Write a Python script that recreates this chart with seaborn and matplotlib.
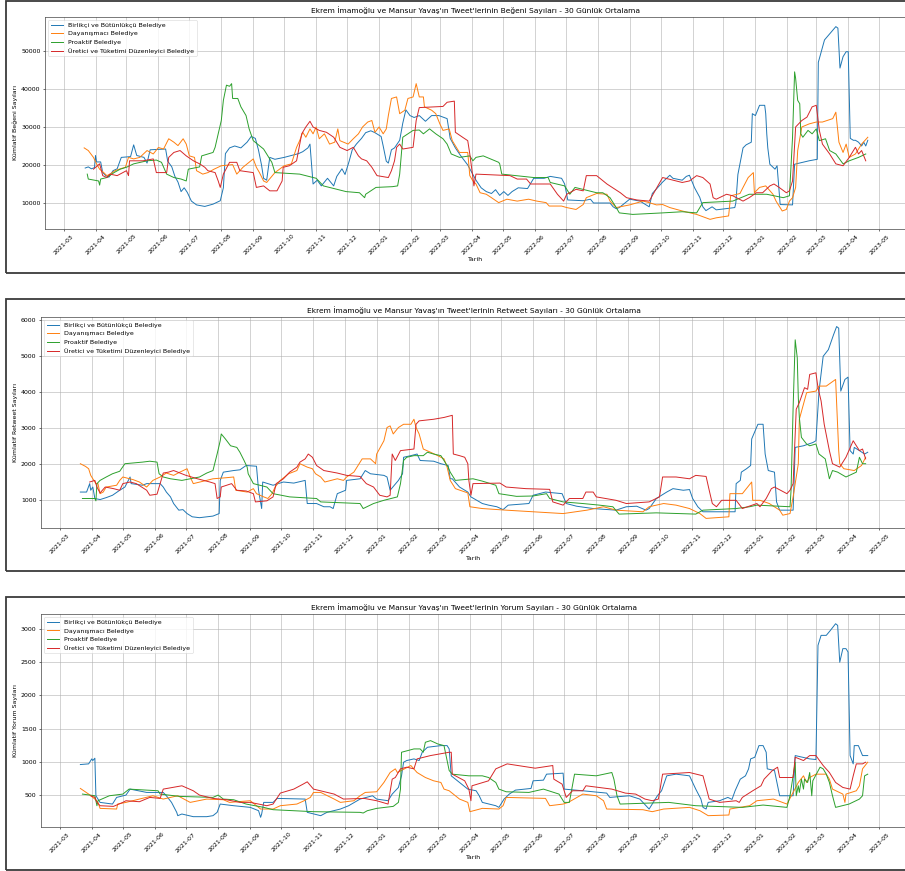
import pandas as pd
import seaborn as sns
import matplotlib
matplotlib.use("Agg")
from matplotlib import pyplot as plt
import matplotlib.dates as mdates
import matplotlib.patches as patches

GROUPS = ["Birlikçi ve Bütünlükçü Belediye", "Dayanışmacı Belediye",
          "Proaktif Belediye", "Üretici ve Tüketimi Düzenleyici Belediye"]
COLORS = ["#1f77b4", "#ff7f0e", "#2ca02c", "#d62728"]

TITLES = ["Ekrem İmamoğlu ve Mansur Yavaş'ın Tweet'lerinin Beğeni Sayıları - 30 Günlük Ortalama",
          "Ekrem İmamoğlu ve Mansur Yavaş'ın Tweet'lerinin Retweet Sayıları - 30 Günlük Ortalama",
          "Ekrem İmamoğlu ve Mansur Yavaş'ın Tweet'lerinin Yorum Sayıları - 30 Günlük Ortalama"]
YLABELS = ["Kümlatif Beğeni Sayıları", "Kümlatif Retweet Sayıları", "Kümlatif Yorum Sayıları"]
XLABEL = "Tarih"

# ---- Beğeni (likes), 30 day average ----
LIKES_BIRLIKCI = [
    ("2021-03-22", 19200), ("2021-03-25", 19500), ("2021-03-28", 19000), ("2021-03-31", 19300), ("2021-04-01", 22500),
    ("2021-04-02", 20800), ("2021-04-06", 20800), ("2021-04-08", 18000), ("2021-04-11", 17200), ("2021-04-14", 16800),
    ("2021-04-18", 18500), ("2021-04-22", 19000), ("2021-04-26", 22000), ("2021-05-05", 22200), ("2021-05-08", 25300),
    ("2021-05-11", 22500), ("2021-05-18", 22000), ("2021-05-21", 20500), ("2021-05-24", 24000), ("2021-06-08", 24200),
    ("2021-06-10", 21000), ("2021-06-14", 19500), ("2021-06-17", 17000), ("2021-06-20", 15500), ("2021-06-23", 13000),
    ("2021-06-26", 14000), ("2021-06-29", 12800), ("2021-07-03", 10500), ("2021-07-08", 9500), ("2021-07-16", 9100),
    ("2021-07-24", 9700), ("2021-07-31", 10600), ("2021-08-03", 14000), ("2021-08-05", 23000), ("2021-08-09", 24500),
    ("2021-08-14", 25000), ("2021-08-20", 24500), ("2021-08-26", 26000), ("2021-08-30", 27500), ("2021-09-03", 27000),
    ("2021-09-06", 24000), ("2021-09-09", 20000), ("2021-09-11", 16500), ("2021-09-14", 16000), ("2021-09-17", 22000),
    ("2021-09-22", 21500), ("2021-10-01", 22000), ("2021-10-08", 22500), ("2021-10-15", 23000), ("2021-10-19", 23500),
    ("2021-10-24", 24500), ("2021-10-26", 25500), ("2021-10-29", 15000), ("2021-11-02", 16000), ("2021-11-06", 14500),
    ("2021-11-12", 16500), ("2021-11-18", 14500), ("2021-11-21", 17000), ("2021-11-26", 19000), ("2021-11-29", 17500),
    ("2021-12-03", 21000), ("2021-12-06", 24000), ("2021-12-10", 25500), ("2021-12-15", 27000), ("2021-12-19", 28500),
    ("2021-12-24", 29000), ("2021-12-28", 28500), ("2021-12-31", 28000), ("2022-01-03", 27500), ("2022-01-05", 25000),
    ("2022-01-08", 21000), ("2022-01-10", 20500), ("2022-01-13", 24000), ("2022-01-16", 24500), ("2022-01-21", 26500),
    ("2022-01-24", 31000), ("2022-01-27", 34500), ("2022-01-31", 33000), ("2022-02-04", 32500), ("2022-02-09", 33000),
    ("2022-02-15", 31500), ("2022-02-21", 33000), ("2022-02-28", 33000), ("2022-03-08", 32200), ("2022-03-11", 27000),
    ("2022-03-16", 24500), ("2022-03-21", 22500), ("2022-03-28", 20000), ("2022-04-02", 17500), ("2022-04-05", 16000),
    ("2022-04-10", 14000), ("2022-04-15", 13000), ("2022-04-20", 12500), ("2022-04-24", 13500), ("2022-04-28", 12000),
    ("2022-05-02", 13000), ("2022-05-06", 12000), ("2022-05-10", 13000), ("2022-05-16", 14000), ("2022-05-25", 13800),
    ("2022-05-31", 16500), ("2022-06-10", 16500), ("2022-06-16", 17000), ("2022-06-27", 16500), ("2022-06-30", 15000),
    ("2022-07-03", 10800), ("2022-07-18", 10600), ("2022-07-25", 11000), ("2022-07-28", 10000), ("2022-08-13", 10000),
    ("2022-08-16", 9000), ("2022-08-19", 8500), ("2022-08-22", 8800), ("2022-09-01", 11000), ("2022-09-11", 10500),
    ("2022-09-17", 9500), ("2022-09-20", 9000), ("2022-09-23", 12500), ("2022-09-28", 14000), ("2022-10-03", 15500),
    ("2022-10-10", 17300), ("2022-10-13", 16500), ("2022-10-22", 16000), ("2022-10-26", 17000), ("2022-10-29", 17300),
    ("2022-11-03", 14000), ("2022-11-08", 11500), ("2022-11-11", 9000), ("2022-11-14", 8000), ("2022-11-20", 9000),
    ("2022-11-24", 8200), ("2022-12-03", 8500), ("2022-12-12", 8800), ("2022-12-13", 10000), ("2022-12-15", 17500),
    ("2022-12-20", 24500), ("2022-12-23", 25300), ("2022-12-28", 26000), ("2022-12-29", 33500), ("2023-01-01", 33000),
    ("2023-01-05", 35700), ("2023-01-10", 35700), ("2023-01-11", 33500), ("2023-01-12", 28200), ("2023-01-13", 24500),
    ("2023-01-15", 20200), ("2023-01-20", 18900), ("2023-01-22", 19800), ("2023-01-25", 9600), ("2023-02-06", 9500),
    ("2023-02-08", 20200), ("2023-02-22", 21100), ("2023-03-02", 21500), ("2023-03-03", 47000), ("2023-03-09", 52900),
    ("2023-03-14", 54500), ("2023-03-20", 56400), ("2023-03-22", 56000), ("2023-03-24", 45500), ("2023-03-27", 48500),
    ("2023-03-30", 49800), ("2023-04-01", 49800), ("2023-04-03", 27000), ("2023-04-06", 26500), ("2023-04-08", 26500),
    ("2023-04-11", 26000), ("2023-04-14", 25000), ("2023-04-16", 26000), ("2023-04-18", 25000), ("2023-04-20", 26500)]

LIKES_DAYANISMACI = [
    ("2021-03-21", 24500), ("2021-03-25", 23800), ("2021-03-30", 22000), ("2021-04-02", 20300), ("2021-04-05", 18900),
    ("2021-04-09", 18000), ("2021-04-12", 17200), ("2021-04-15", 17600), ("2021-04-20", 18500), ("2021-04-25", 19000),
    ("2021-04-30", 19400), ("2021-05-03", 22000), ("2021-05-08", 21600), ("2021-05-14", 22000), ("2021-05-21", 23800),
    ("2021-05-27", 22900), ("2021-06-01", 24600), ("2021-06-06", 24200), ("2021-06-11", 26900), ("2021-06-16", 26000),
    ("2021-06-20", 25100), ("2021-06-25", 26900), ("2021-06-28", 25500), ("2021-07-01", 22400), ("2021-07-06", 22000),
    ("2021-07-08", 18500), ("2021-07-14", 17600), ("2021-07-19", 18000), ("2021-07-25", 18900), ("2021-08-01", 19800),
    ("2021-08-12", 20100), ("2021-08-16", 17600), ("2021-08-22", 19400), ("2021-08-28", 20700), ("2021-09-01", 21600),
    ("2021-09-04", 19400), ("2021-09-07", 18000), ("2021-09-11", 15800), ("2021-09-14", 15400), ("2021-09-22", 18000),
    ("2021-10-01", 19800), ("2021-10-08", 20300), ("2021-10-13", 24650), ("2021-10-16", 26400), ("2021-10-19", 28600),
    ("2021-10-22", 27300), ("2021-10-26", 29500), ("2021-10-29", 28200), ("2021-11-01", 30000), ("2021-11-04", 26900),
    ("2021-11-09", 28200), ("2021-11-14", 25500), ("2021-11-19", 26000), ("2021-11-22", 29500), ("2021-11-24", 26400),
    ("2021-12-02", 25500), ("2021-12-07", 26900), ("2021-12-12", 28200), ("2021-12-16", 30000), ("2021-12-21", 31300),
    ("2021-12-25", 31700), ("2021-12-28", 28600), ("2022-01-01", 30000), ("2022-01-05", 28200), ("2022-01-08", 29500),
    ("2022-01-10", 33000), ("2022-01-13", 37500), ("2022-01-18", 37900), ("2022-01-21", 33500), ("2022-01-26", 34400),
    ("2022-01-29", 37500), ("2022-02-03", 37900), ("2022-02-06", 41400), ("2022-02-09", 37900), ("2022-02-13", 37900),
    ("2022-02-14", 35300), ("2022-02-21", 34400), ("2022-02-25", 33500), ("2022-03-01", 30800), ("2022-03-04", 29100),
    ("2022-03-10", 29500), ("2022-03-13", 26400), ("2022-03-17", 24650), ("2022-03-20", 23300), ("2022-03-28", 23300),
    ("2022-03-30", 17200), ("2022-04-02", 15800), ("2022-04-05", 15000), ("2022-04-09", 12700), ("2022-04-15", 12300),
    ("2022-04-20", 11400), ("2022-04-27", 10100), ("2022-05-05", 11000), ("2022-05-15", 10500), ("2022-05-26", 11000),
    ("2022-06-03", 10500), ("2022-06-12", 10100), ("2022-06-15", 9200), ("2022-06-27", 9200), ("2022-07-02", 8800),
    ("2022-07-11", 8300), ("2022-07-18", 9600), ("2022-07-21", 11400), ("2022-07-31", 12500), ("2022-08-10", 12300),
    ("2022-08-13", 10500), ("2022-08-19", 8800), ("2022-09-01", 9500), ("2022-09-14", 10500), ("2022-09-20", 10100),
    ("2022-09-27", 9500), ("2022-10-03", 9600), ("2022-10-10", 8800), ("2022-10-22", 7900), ("2022-11-05", 7000),
    ("2022-11-18", 5700), ("2022-11-24", 6100), ("2022-12-06", 6600), ("2022-12-08", 11900), ("2022-12-17", 12500),
    ("2022-12-20", 14100), ("2022-12-25", 16700), ("2022-12-30", 18000), ("2022-12-31", 12700), ("2023-01-05", 14100),
    ("2023-01-11", 14500), ("2023-01-18", 12300), ("2023-01-21", 10500), ("2023-01-27", 7900), ("2023-01-31", 8300),
    ("2023-02-03", 10500), ("2023-02-06", 11400), ("2023-02-09", 14100), ("2023-02-11", 23800), ("2023-02-15", 30000),
    ("2023-02-22", 30800), ("2023-03-01", 31300), ("2023-03-07", 31300), ("2023-03-17", 32200), ("2023-03-20", 33900),
    ("2023-03-23", 26000), ("2023-03-27", 23300), ("2023-03-30", 25500), ("2023-04-02", 22000), ("2023-04-08", 22900),
    ("2023-04-14", 25500), ("2023-04-20", 27300)]

LIKES_PROAKTIF = [
    ("2021-03-24", 17600), ("2021-03-25", 16300), ("2021-04-04", 15800), ("2021-04-05", 14700), ("2021-04-06", 16300),
    ("2021-04-12", 16700), ("2021-04-19", 18000), ("2021-04-25", 18900), ("2021-05-01", 19400), ("2021-05-08", 20300),
    ("2021-05-21", 21100), ("2021-05-30", 21300), ("2021-06-04", 20700), ("2021-06-09", 17600), ("2021-06-16", 16700),
    ("2021-06-23", 16300), ("2021-06-28", 15800), ("2021-06-30", 18900), ("2021-07-11", 19500), ("2021-07-13", 22400),
    ("2021-07-24", 23300), ("2021-07-26", 24650), ("2021-07-29", 28200), ("2021-08-01", 31700), ("2021-08-03", 37000),
    ("2021-08-06", 41000), ("2021-08-09", 40700), ("2021-08-11", 41400), ("2021-08-12", 37500), ("2021-08-17", 37500),
    ("2021-08-20", 35300), ("2021-08-25", 33000), ("2021-08-28", 29500), ("2021-09-01", 26400), ("2021-09-11", 24200),
    ("2021-09-14", 22900), ("2021-09-19", 20700), ("2021-09-22", 18000), ("2021-10-16", 17600), ("2021-11-01", 16500),
    ("2021-11-08", 14500), ("2021-11-30", 13000), ("2021-12-13", 12700), ("2021-12-18", 11400), ("2021-12-19", 12300),
    ("2021-12-29", 14100), ("2022-01-14", 14300), ("2022-01-19", 14500), ("2022-01-21", 17600), ("2022-01-24", 27300),
    ("2022-02-03", 29100), ("2022-02-09", 29200), ("2022-02-13", 28200), ("2022-02-19", 29500), ("2022-02-25", 28200),
    ("2022-03-04", 26900), ("2022-03-08", 25500), ("2022-03-12", 22900), ("2022-03-20", 22000), ("2022-03-30", 22400),
    ("2022-04-02", 21100), ("2022-04-05", 22000), ("2022-04-12", 22400), ("2022-04-27", 20700), ("2022-04-28", 20300),
    ("2022-04-30", 17600), ("2022-05-31", 16700), ("2022-06-14", 16700), ("2022-06-16", 15400), ("2022-06-30", 14500),
    ("2022-07-05", 12300), ("2022-07-10", 14100), ("2022-07-31", 12700), ("2022-08-06", 12700), ("2022-08-13", 11400),
    ("2022-08-19", 8800), ("2022-08-22", 7400), ("2022-09-04", 7000), ("2022-10-03", 7400), ("2022-10-22", 7700),
    ("2022-11-05", 7400), ("2022-11-11", 10100), ("2022-12-10", 10500), ("2022-12-26", 12300), ("2023-01-12", 12300),
    ("2023-01-28", 11400), ("2023-02-03", 11900), ("2023-02-06", 27300), ("2023-02-08", 44500), ("2023-02-09", 42800),
    ("2023-02-11", 37000), ("2023-02-13", 36100), ("2023-02-14", 28200), ("2023-02-16", 27300), ("2023-02-21", 29100),
    ("2023-02-25", 28200), ("2023-03-01", 29500), ("2023-03-04", 26400), ("2023-03-10", 26900), ("2023-03-14", 23800),
    ("2023-03-20", 22900), ("2023-03-27", 20300), ("2023-04-02", 21100), ("2023-04-11", 22000), ("2023-04-18", 22900)]

LIKES_URETICI = [
    ("2021-03-30", 18900), ("2021-04-05", 20300), ("2021-04-08", 17200), ("2021-04-12", 16700), ("2021-04-15", 17600),
    ("2021-04-22", 17200), ("2021-05-01", 18500), ("2021-05-03", 17200), ("2021-05-04", 21100), ("2021-05-17", 21100),
    ("2021-05-27", 21600), ("2021-05-30", 18000), ("2021-06-09", 18000), ("2021-06-11", 22000), ("2021-06-16", 23300),
    ("2021-06-22", 23800), ("2021-06-28", 22400), ("2021-07-05", 21100), ("2021-07-11", 20300), ("2021-07-16", 19400),
    ("2021-07-19", 18500), ("2021-07-26", 18000), ("2021-07-29", 15800), ("2021-07-31", 14100), ("2021-08-03", 17600),
    ("2021-08-09", 20700), ("2021-08-16", 20700), ("2021-08-19", 18500), ("2021-09-01", 18000), ("2021-09-04", 14100),
    ("2021-09-11", 14500), ("2021-09-17", 13200), ("2021-09-24", 13200), ("2021-09-29", 15800), ("2021-09-30", 19400),
    ("2021-10-06", 19800), ("2021-10-13", 21100), ("2021-10-18", 28200), ("2021-10-22", 30000), ("2021-10-26", 31500),
    ("2021-10-29", 30000), ("2021-11-04", 29100), ("2021-11-11", 28600), ("2021-11-18", 27300), ("2021-11-24", 24650),
    ("2021-12-01", 23800), ("2021-12-07", 24650), ("2021-12-12", 22400), ("2021-12-15", 21600), ("2021-12-20", 21100),
    ("2021-12-25", 19400), ("2021-12-30", 17200), ("2022-01-10", 16700), ("2022-01-13", 18500), ("2022-01-16", 21100),
    ("2022-01-18", 24650), ("2022-01-21", 25500), ("2022-01-24", 24200), ("2022-02-03", 24650), ("2022-02-06", 31700),
    ("2022-02-09", 35100), ("2022-03-04", 35400), ("2022-03-08", 36500), ("2022-03-15", 36800), ("2022-03-16", 28600),
    ("2022-03-23", 27300), ("2022-03-28", 26400), ("2022-03-30", 22900), ("2022-04-02", 16700), ("2022-04-03", 14500),
    ("2022-04-05", 17600), ("2022-05-08", 17200), ("2022-05-15", 16300), ("2022-05-24", 16300), ("2022-05-28", 15000),
    ("2022-06-16", 15000), ("2022-06-23", 12300), ("2022-06-29", 10500), ("2022-07-02", 12300), ("2022-07-11", 13600),
    ("2022-07-18", 13200), ("2022-07-21", 17200), ("2022-07-31", 17200), ("2022-08-10", 15000), ("2022-08-23", 12700),
    ("2022-08-29", 11400), ("2022-09-08", 10800), ("2022-09-20", 10500), ("2022-10-03", 16700), ("2022-10-22", 15400),
    ("2022-10-29", 15800), ("2022-11-05", 17200), ("2022-11-11", 16700), ("2022-11-18", 15000), ("2022-11-21", 11400),
    ("2022-11-24", 11000), ("2022-12-04", 12300), ("2022-12-10", 11900), ("2022-12-20", 10500), ("2022-12-26", 11400),
    ("2023-01-02", 12700), ("2023-01-08", 12700), ("2023-01-15", 14500), ("2023-01-19", 15000), ("2023-01-24", 14100),
    ("2023-01-31", 12700), ("2023-02-03", 13200), ("2023-02-06", 15800), ("2023-02-09", 30000), ("2023-02-15", 31700),
    ("2023-02-20", 32600), ("2023-02-25", 35300), ("2023-03-01", 35700), ("2023-03-04", 29100), ("2023-03-07", 25500),
    ("2023-03-14", 22900), ("2023-03-20", 20300), ("2023-03-27", 19800), ("2023-04-02", 22000), ("2023-04-08", 24650),
    ("2023-04-11", 22900), ("2023-04-14", 23800), ("2023-04-18", 21100)]

# ---- Retweet ----
RT_BIRLIKCI = [
    ("2021-03-21", 1210), ("2021-03-27", 1210), ("2021-03-30", 1445), ("2021-03-31", 1260), ("2021-04-02", 1350),
    ("2021-04-04", 1030), ("2021-04-09", 1000), ("2021-04-15", 1055), ("2021-04-21", 1120), ("2021-04-28", 1260),
    ("2021-05-03", 1350), ("2021-05-08", 1630), ("2021-05-09", 1445), ("2021-05-20", 1400), ("2021-05-24", 1445),
    ("2021-06-06", 1445), ("2021-06-09", 1350), ("2021-06-12", 1210), ("2021-06-16", 1075), ("2021-06-19", 890),
    ("2021-06-24", 705), ("2021-06-28", 720), ("2021-07-02", 610), ("2021-07-07", 520), ("2021-07-14", 495),
    ("2021-07-27", 540), ("2021-08-02", 610), ("2021-08-03", 1535), ("2021-08-06", 1765), ("2021-08-16", 1810),
    ("2021-08-22", 1830), ("2021-08-28", 1950), ("2021-09-07", 1930), ("2021-09-09", 1260), ("2021-09-12", 750),
    ("2021-09-13", 1490), ("2021-09-23", 1400), ("2021-10-03", 1490), ("2021-10-13", 1460), ("2021-10-24", 1535),
    ("2021-10-26", 890), ("2021-11-04", 890), ("2021-11-11", 800), ("2021-11-17", 800), ("2021-11-20", 750),
    ("2021-11-24", 1165), ("2021-12-02", 1260), ("2021-12-03", 1535), ("2021-12-16", 1580), ("2021-12-21", 1810),
    ("2021-12-26", 1720), ("2022-01-08", 1675), ("2022-01-11", 1630), ("2022-01-14", 1260), ("2022-01-22", 1535),
    ("2022-01-26", 1720), ("2022-01-27", 2180), ("2022-02-03", 2225), ("2022-02-09", 2270), ("2022-02-12", 2090),
    ("2022-02-25", 2070), ("2022-03-04", 2000), ("2022-03-11", 1950), ("2022-03-13", 1580), ("2022-03-15", 1580),
    ("2022-03-22", 1350), ("2022-03-30", 1210), ("2022-04-02", 1075), ("2022-04-13", 890), ("2022-04-19", 845),
    ("2022-04-27", 800), ("2022-05-03", 720), ("2022-05-08", 845), ("2022-05-28", 890), ("2022-06-01", 1120),
    ("2022-06-13", 1210), ("2022-06-29", 1165), ("2022-07-03", 890), ("2022-07-13", 815), ("2022-07-29", 750),
    ("2022-08-20", 705), ("2022-08-30", 800), ("2022-09-09", 815), ("2022-09-18", 705), ("2022-09-21", 750),
    ("2022-09-28", 1030), ("2022-10-08", 1210), ("2022-10-14", 1305), ("2022-10-24", 1260), ("2022-10-30", 1280),
    ("2022-11-02", 1030), ("2022-11-07", 800), ("2022-11-12", 660), ("2022-12-13", 660), ("2022-12-14", 1445),
    ("2022-12-18", 1535), ("2022-12-19", 1765), ("2022-12-24", 1860), ("2022-12-28", 1950), ("2022-12-29", 2690),
    ("2023-01-04", 3100), ("2023-01-09", 3100), ("2023-01-11", 2270), ("2023-01-14", 1810), ("2023-01-20", 1765),
    ("2023-01-22", 935), ("2023-01-25", 705), ("2023-02-07", 705), ("2023-02-09", 2455), ("2023-02-17", 2500),
    ("2023-02-26", 2590), ("2023-03-01", 2640), ("2023-03-04", 4025), ("2023-03-08", 4995), ("2023-03-13", 5180),
    ("2023-03-18", 5595), ("2023-03-21", 5825), ("2023-03-23", 5780), ("2023-03-25", 4025), ("2023-03-29", 4350),
    ("2023-04-01", 4415), ("2023-04-03", 2365), ("2023-04-06", 2270), ("2023-04-07", 2455), ("2023-04-12", 2365),
    ("2023-04-17", 2270), ("2023-04-20", 2320)]

RT_DAYANISMACI = [
    ("2021-03-21", 2000), ("2021-03-26", 1925), ("2021-03-29", 1860), ("2021-03-31", 1675), ("2021-04-03", 1535),
    ("2021-04-05", 1445), ("2021-04-07", 1445), ("2021-04-09", 1165), ("2021-04-12", 1210), ("2021-04-15", 1350),
    ("2021-04-25", 1400), ("2021-04-28", 1535), ("2021-05-01", 1630), ("2021-05-11", 1555), ("2021-05-17", 1490),
    ("2021-05-24", 1350), ("2021-05-30", 1535), ("2021-06-06", 1630), ("2021-06-12", 1740), ("2021-06-19", 1675),
    ("2021-06-25", 1765), ("2021-07-02", 1860), ("2021-07-05", 1630), ("2021-07-08", 1445), ("2021-07-18", 1515),
    ("2021-07-27", 1580), ("2021-08-09", 1610), ("2021-08-16", 1630), ("2021-08-18", 1260), ("2021-08-29", 1210),
    ("2021-09-04", 1305), ("2021-09-07", 1165), ("2021-09-14", 1075), ("2021-09-18", 1030), ("2021-09-22", 1165),
    ("2021-09-25", 1350), ("2021-09-30", 1535), ("2021-10-08", 1720), ("2021-10-16", 1810), ("2021-10-19", 2000),
    ("2021-10-26", 1905), ("2021-10-31", 1860), ("2021-11-03", 1720), ("2021-11-08", 1630), ("2021-11-12", 1490),
    ("2021-11-24", 1580), ("2021-11-30", 1535), ("2021-12-03", 1630), ("2021-12-10", 1765), ("2021-12-18", 2135),
    ("2021-12-26", 2135), ("2021-12-31", 2000), ("2022-01-01", 2270), ("2022-01-08", 2640), ("2022-01-11", 3010),
    ("2022-01-14", 3055), ("2022-01-17", 2830), ("2022-01-22", 3010), ("2022-01-27", 3100), ("2022-02-03", 3100),
    ("2022-02-06", 3240), ("2022-02-08", 3010), ("2022-02-11", 2830), ("2022-02-15", 2410), ("2022-02-22", 2320),
    ("2022-03-01", 2225), ("2022-03-07", 2135), ("2022-03-10", 1905), ("2022-03-13", 1535), ("2022-03-18", 1305),
    ("2022-03-30", 1185), ("2022-04-01", 800), ("2022-04-13", 750), ("2022-05-06", 705), ("2022-06-01", 660),
    ("2022-06-30", 610), ("2022-07-23", 705), ("2022-08-08", 800), ("2022-08-20", 705), ("2022-09-15", 660),
    ("2022-09-21", 800), ("2022-10-05", 890), ("2022-10-17", 845), ("2022-10-30", 750), ("2022-11-09", 610),
    ("2022-11-15", 475), ("2022-12-07", 520), ("2022-12-08", 1165), ("2022-12-20", 1165), ("2022-12-29", 1490),
    ("2022-12-30", 980), ("2023-01-06", 980), ("2023-01-15", 890), ("2023-01-25", 705), ("2023-01-28", 565),
    ("2023-02-04", 610), ("2023-02-07", 1075), ("2023-02-12", 2000), ("2023-02-13", 3240), ("2023-02-20", 3980),
    ("2023-03-01", 4025), ("2023-03-04", 4165), ("2023-03-11", 4165), ("2023-03-20", 4350), ("2023-03-23", 2365),
    ("2023-03-24", 2000), ("2023-03-28", 1860), ("2023-04-07", 1810), ("2023-04-14", 1950), ("2023-04-18", 2180)]

RT_PROAKTIF = [
    ("2021-03-23", 1030), ("2021-04-04", 1030), ("2021-04-05", 965), ("2021-04-06", 1445), ("2021-04-09", 1535),
    ("2021-04-15", 1630), ("2021-04-21", 1720), ("2021-04-28", 1790), ("2021-05-03", 2000), ("2021-05-20", 2045),
    ("2021-05-27", 2070), ("2021-06-03", 2045), ("2021-06-05", 1720), ("2021-06-09", 1630), ("2021-06-16", 1580),
    ("2021-06-27", 1535), ("2021-07-14", 1630), ("2021-07-21", 1740), ("2021-07-27", 1810), ("2021-07-31", 2270),
    ("2021-08-03", 2640), ("2021-08-04", 2830), ("2021-08-08", 2690), ("2021-08-13", 2500), ("2021-08-19", 2455),
    ("2021-08-22", 2320), ("2021-08-26", 2090), ("2021-08-29", 1905), ("2021-08-30", 1720), ("2021-09-04", 1445),
    ("2021-09-17", 1350), ("2021-09-23", 1165), ("2021-10-09", 1075), ("2021-11-04", 1030), ("2021-11-08", 935),
    ("2021-12-16", 890), ("2021-12-19", 750), ("2021-12-29", 890), ("2022-01-08", 980), ("2022-01-21", 1075),
    ("2022-01-24", 1445), ("2022-01-27", 2090), ("2022-01-30", 2180), ("2022-02-06", 2225), ("2022-02-15", 2225),
    ("2022-02-19", 2320), ("2022-02-25", 2270), ("2022-03-04", 2225), ("2022-03-11", 1905), ("2022-03-13", 1765),
    ("2022-03-18", 1535), ("2022-04-04", 1580), ("2022-04-13", 1515), ("2022-04-26", 1400), ("2022-04-29", 1165),
    ("2022-05-16", 1090), ("2022-06-01", 1100), ("2022-06-14", 1165), ("2022-06-17", 1030), ("2022-06-30", 935),
    ("2022-07-19", 890), ("2022-08-04", 845), ("2022-08-17", 800), ("2022-08-23", 595), ("2022-09-28", 630),
    ("2022-11-05", 595), ("2022-11-12", 705), ("2022-12-14", 750), ("2022-12-27", 800), ("2023-01-03", 845),
    ("2023-02-04", 800), ("2023-02-05", 1260), ("2023-02-07", 3565), ("2023-02-09", 5455), ("2023-02-11", 4950),
    ("2023-02-12", 3840), ("2023-02-13", 3290), ("2023-02-15", 2735), ("2023-02-20", 2550), ("2023-02-23", 2500),
    ("2023-03-01", 2550), ("2023-03-04", 2270), ("2023-03-10", 2135), ("2023-03-14", 1580), ("2023-03-17", 1810),
    ("2023-03-22", 1765), ("2023-03-30", 1630), ("2023-04-09", 1765), ("2023-04-12", 2180), ("2023-04-15", 2000),
    ("2023-04-18", 2000)]

RT_URETICI = [
    ("2021-03-30", 1490), ("2021-04-04", 1535), ("2021-04-06", 1350), ("2021-04-09", 1185), ("2021-04-14", 1350),
    ("2021-04-22", 1305), ("2021-04-28", 1260), ("2021-05-01", 1445), ("2021-05-08", 1490), ("2021-05-14", 1445),
    ("2021-05-24", 1260), ("2021-05-27", 1120), ("2021-06-03", 1150), ("2021-06-06", 1445), ("2021-06-09", 1740),
    ("2021-06-14", 1765), ("2021-06-19", 1810), ("2021-07-01", 1675), ("2021-07-12", 1580), ("2021-07-24", 1490),
    ("2021-07-29", 1445), ("2021-07-31", 1030), ("2021-08-03", 1075), ("2021-08-04", 1350), ("2021-08-14", 1445),
    ("2021-08-19", 1260), ("2021-08-28", 1240), ("2021-09-04", 1165), ("2021-09-06", 935), ("2021-09-17", 965),
    ("2021-09-23", 1075), ("2021-09-26", 1445), ("2021-10-03", 1580), ("2021-10-09", 1765), ("2021-10-16", 1905),
    ("2021-10-19", 2045), ("2021-10-24", 2135), ("2021-10-27", 2270), ("2021-10-31", 2180), ("2021-11-04", 1950),
    ("2021-11-11", 1810), ("2021-11-24", 1740), ("2021-12-03", 1675), ("2021-12-16", 1645), ("2021-12-22", 1445),
    ("2021-12-29", 1350), ("2022-01-04", 1120), ("2022-01-11", 1075), ("2022-01-14", 1120), ("2022-01-16", 2270),
    ("2022-01-19", 2090), ("2022-01-24", 2365), ("2022-02-06", 2410), ("2022-02-08", 3100), ("2022-02-11", 3195),
    ("2022-02-25", 3240), ("2022-03-07", 3290), ("2022-03-15", 3350), ("2022-03-16", 2270), ("2022-03-22", 2225),
    ("2022-03-27", 2180), ("2022-03-30", 2000), ("2022-03-31", 1535), ("2022-04-02", 1120), ("2022-04-04", 1445),
    ("2022-04-30", 1460), ("2022-05-06", 1350), ("2022-05-25", 1305), ("2022-06-17", 1285), ("2022-06-20", 935),
    ("2022-06-30", 845), ("2022-07-06", 1030), ("2022-07-19", 1030), ("2022-07-22", 1210), ("2022-07-29", 1210),
    ("2022-08-01", 1075), ("2022-08-20", 980), ("2022-08-30", 890), ("2022-09-21", 935), ("2022-10-01", 1075),
    ("2022-10-04", 1630), ("2022-10-17", 1630), ("2022-10-30", 1580), ("2022-11-05", 1675), ("2022-11-15", 1645),
    ("2022-11-18", 1260), ("2022-11-21", 890), ("2022-11-25", 800), ("2022-11-30", 980), ("2022-12-14", 980),
    ("2022-12-20", 750), ("2023-01-03", 890), ("2023-01-06", 800), ("2023-01-12", 1030), ("2023-01-17", 1305),
    ("2023-01-20", 1350), ("2023-02-01", 1165), ("2023-02-04", 1260), ("2023-02-07", 1445), ("2023-02-10", 3520),
    ("2023-02-13", 3705), ("2023-02-18", 4120), ("2023-02-21", 4075), ("2023-02-23", 4490), ("2023-03-01", 4535),
    ("2023-03-03", 4120), ("2023-03-06", 3750), ("2023-03-09", 3100), ("2023-03-14", 2365), ("2023-03-17", 2000),
    ("2023-03-24", 1905), ("2023-03-30", 2180), ("2023-04-06", 2640), ("2023-04-12", 2365), ("2023-04-15", 2410),
    ("2023-04-18", 2135)]

# ---- Yorum (comments) ----
COMMENTS_BIRLIKCI = [
    ("2021-03-21", 960), ("2021-03-29", 970), ("2021-04-01", 1045), ("2021-04-02", 1020), ("2021-04-04", 1055),
    ("2021-04-05", 490), ("2021-04-09", 390), ("2021-04-21", 365), ("2021-04-25", 465), ("2021-05-04", 500),
    ("2021-05-08", 590), ("2021-05-24", 540), ("2021-06-09", 540), ("2021-06-12", 490), ("2021-06-17", 390),
    ("2021-06-22", 240), ("2021-06-23", 190), ("2021-06-27", 215), ("2021-07-08", 175), ("2021-07-21", 175),
    ("2021-07-27", 190), ("2021-07-31", 240), ("2021-08-03", 365), ("2021-08-16", 340), ("2021-09-01", 315),
    ("2021-09-09", 265), ("2021-09-11", 165), ("2021-09-12", 215), ("2021-09-14", 390), ("2021-09-23", 390),
    ("2021-09-27", 450), ("2021-10-24", 440), ("2021-10-26", 240), ("2021-11-08", 190), ("2021-11-14", 240),
    ("2021-11-27", 290), ("2021-12-05", 340), ("2021-12-16", 440), ("2021-12-28", 490), ("2022-01-01", 440),
    ("2022-01-12", 415), ("2022-01-16", 515), ("2022-01-22", 615), ("2022-01-25", 790), ("2022-01-27", 995),
    ("2022-01-30", 1020), ("2022-02-06", 1045), ("2022-02-11", 1020), ("2022-02-14", 1145), ("2022-02-19", 1220),
    ("2022-03-04", 1245), ("2022-03-10", 1245), ("2022-03-12", 1195), ("2022-03-14", 790), ("2022-03-22", 690),
    ("2022-03-30", 590), ("2022-04-07", 565), ("2022-04-10", 490), ("2022-04-13", 390), ("2022-04-26", 340),
    ("2022-04-29", 315), ("2022-05-04", 440), ("2022-05-09", 515), ("2022-05-15", 575), ("2022-05-30", 600),
    ("2022-06-01", 715), ("2022-06-11", 725), ("2022-06-14", 815), ("2022-06-30", 830), ("2022-07-01", 590),
    ("2022-07-19", 565), ("2022-08-11", 530), ("2022-08-14", 465), ("2022-09-02", 490), ("2022-09-12", 440),
    ("2022-09-18", 340), ("2022-09-21", 290), ("2022-09-25", 390), ("2022-09-29", 490), ("2022-10-03", 565),
    ("2022-10-08", 790), ("2022-10-17", 815), ("2022-10-30", 790), ("2022-11-05", 590), ("2022-11-10", 440),
    ("2022-11-12", 315), ("2022-11-15", 290), ("2022-11-17", 390), ("2022-11-28", 415), ("2022-12-06", 465),
    ("2022-12-10", 435), ("2022-12-13", 565), ("2022-12-18", 740), ("2022-12-23", 790), ("2022-12-26", 895),
    ("2022-12-28", 1045), ("2023-01-01", 1070), ("2023-01-05", 1245), ("2023-01-09", 1245), ("2023-01-12", 1145),
    ("2023-01-13", 895), ("2023-01-20", 870), ("2023-01-25", 490), ("2023-02-07", 490), ("2023-02-09", 1095),
    ("2023-02-23", 1045), ("2023-03-01", 1035), ("2023-03-03", 2755), ("2023-03-06", 2905), ("2023-03-11", 2905),
    ("2023-03-15", 2980), ("2023-03-20", 3080), ("2023-03-22", 3055), ("2023-03-24", 2500), ("2023-03-27", 2705),
    ("2023-03-30", 2705), ("2023-04-01", 2655), ("2023-04-03", 1095), ("2023-04-06", 970), ("2023-04-07", 1245),
    ("2023-04-11", 1245), ("2023-04-15", 1095), ("2023-04-20", 1095)]

COMMENTS_DAYANISMACI = [
    ("2021-03-21", 600), ("2021-03-29", 515), ("2021-04-04", 440), ("2021-04-07", 390), ("2021-04-09", 300),
    ("2021-04-25", 290), ("2021-04-26", 365), ("2021-05-04", 390), ("2021-05-17", 440), ("2021-05-30", 490),
    ("2021-06-09", 440), ("2021-06-23", 490), ("2021-07-05", 390), ("2021-07-21", 440), ("2021-08-06", 430),
    ("2021-08-12", 390), ("2021-09-01", 415), ("2021-09-11", 290), ("2021-09-23", 290), ("2021-09-30", 340),
    ("2021-10-16", 365), ("2021-10-23", 415), ("2021-10-29", 465), ("2021-11-01", 540), ("2021-11-08", 540),
    ("2021-11-21", 440), ("2021-11-27", 390), ("2021-12-10", 415), ("2021-12-16", 490), ("2021-12-21", 540),
    ("2022-01-01", 550), ("2022-01-08", 690), ("2022-01-14", 840), ("2022-01-19", 895), ("2022-01-21", 840),
    ("2022-02-03", 945), ("2022-02-09", 840), ("2022-02-17", 765), ("2022-02-25", 715), ("2022-03-04", 690),
    ("2022-03-07", 590), ("2022-03-12", 565), ("2022-03-22", 440), ("2022-03-30", 390), ("2022-04-01", 250),
    ("2022-04-13", 300), ("2022-04-29", 290), ("2022-05-03", 340), ("2022-05-06", 465), ("2022-06-13", 450),
    ("2022-06-17", 340), ("2022-06-30", 365), ("2022-07-05", 390), ("2022-07-19", 515), ("2022-08-01", 490),
    ("2022-08-08", 415), ("2022-08-11", 290), ("2022-09-15", 280), ("2022-09-24", 250), ("2022-10-05", 290),
    ("2022-10-30", 315), ("2022-11-09", 265), ("2022-11-17", 190), ("2022-12-07", 200), ("2022-12-08", 290),
    ("2022-12-27", 340), ("2023-01-03", 415), ("2023-01-19", 440), ("2023-02-01", 365), ("2023-02-07", 540),
    ("2023-02-12", 690), ("2023-02-17", 790), ("2023-02-20", 690), ("2023-02-23", 765), ("2023-03-01", 815),
    ("2023-03-11", 815), ("2023-03-14", 740), ("2023-03-17", 590), ("2023-03-27", 515), ("2023-03-29", 390),
    ("2023-03-30", 515), ("2023-04-09", 565), ("2023-04-12", 640), ("2023-04-15", 895), ("2023-04-20", 995)]

COMMENTS_PROAKTIF = [
    ("2021-03-23", 515), ("2021-04-04", 490), ("2021-04-06", 340), ("2021-04-07", 415), ("2021-04-18", 490),
    ("2021-05-01", 515), ("2021-05-07", 590), ("2021-06-04", 565), ("2021-06-06", 515), ("2021-06-25", 480),
    ("2021-07-27", 465), ("2021-08-01", 500), ("2021-08-06", 440), ("2021-08-16", 430), ("2021-08-28", 365),
    ("2021-09-14", 315), ("2021-09-23", 280), ("2021-11-01", 250), ("2021-12-16", 240), ("2021-12-19", 230),
    ("2021-12-23", 265), ("2022-01-01", 300), ("2022-01-17", 330), ("2022-01-22", 390), ("2022-01-24", 590),
    ("2022-01-25", 1145), ("2022-02-06", 1195), ("2022-02-12", 1195), ("2022-02-15", 1145), ("2022-02-17", 1295),
    ("2022-02-22", 1320), ("2022-03-01", 1270), ("2022-03-07", 1245), ("2022-03-12", 870), ("2022-03-15", 815),
    ("2022-03-31", 790), ("2022-04-13", 790), ("2022-04-19", 765), ("2022-04-26", 690), ("2022-04-29", 590),
    ("2022-05-06", 550), ("2022-05-28", 540), ("2022-06-11", 590), ("2022-06-26", 515), ("2022-07-01", 390),
    ("2022-07-06", 390), ("2022-07-11", 815), ("2022-08-01", 790), ("2022-08-16", 840), ("2022-08-18", 740),
    ("2022-08-21", 490), ("2022-08-24", 365), ("2022-10-10", 390), ("2022-11-05", 340), ("2022-12-20", 315),
    ("2023-01-09", 350), ("2023-02-01", 315), ("2023-02-04", 490), ("2023-02-07", 790), ("2023-02-09", 995),
    ("2023-02-10", 490), ("2023-02-12", 640), ("2023-02-13", 540), ("2023-02-15", 740), ("2023-02-17", 590),
    ("2023-02-18", 740), ("2023-02-21", 690), ("2023-02-23", 840), ("2023-02-25", 490), ("2023-02-26", 715),
    ("2023-03-05", 920), ("2023-03-08", 895), ("2023-03-11", 815), ("2023-03-14", 690), ("2023-03-17", 490),
    ("2023-03-20", 315), ("2023-04-02", 365), ("2023-04-12", 440), ("2023-04-15", 490), ("2023-04-17", 790),
    ("2023-04-20", 815)]

COMMENTS_URETICI = [
    ("2021-03-31", 490), ("2021-04-04", 465), ("2021-04-06", 390), ("2021-04-09", 340), ("2021-04-22", 330),
    ("2021-05-01", 390), ("2021-05-04", 415), ("2021-05-17", 400), ("2021-05-27", 465), ("2021-06-06", 450),
    ("2021-06-09", 590), ("2021-06-27", 640), ("2021-07-08", 565), ("2021-07-14", 500), ("2021-07-27", 450),
    ("2021-08-09", 430), ("2021-08-22", 390), ("2021-09-01", 390), ("2021-09-17", 340), ("2021-09-23", 365),
    ("2021-09-30", 530), ("2021-10-13", 590), ("2021-10-22", 665), ("2021-10-26", 700), ("2021-11-01", 590),
    ("2021-11-21", 515), ("2021-11-30", 440), ("2021-12-20", 450), ("2022-01-01", 415), ("2022-01-12", 365),
    ("2022-01-16", 740), ("2022-01-19", 765), ("2022-01-24", 895), ("2022-01-30", 920), ("2022-02-06", 895),
    ("2022-02-09", 1045), ("2022-02-22", 1095), ("2022-03-12", 1145), ("2022-03-14", 1145), ("2022-03-15", 815),
    ("2022-03-27", 715), ("2022-03-31", 590), ("2022-04-02", 415), ("2022-04-03", 640), ("2022-04-19", 715),
    ("2022-04-26", 895), ("2022-05-07", 970), ("2022-06-03", 905), ("2022-06-20", 945), ("2022-06-21", 740),
    ("2022-06-29", 665), ("2022-07-03", 465), ("2022-07-09", 565), ("2022-07-19", 565), ("2022-07-22", 640),
    ("2022-08-16", 590), ("2022-08-29", 530), ("2022-09-08", 515), ("2022-09-17", 440), ("2022-09-24", 415),
    ("2022-09-30", 440), ("2022-10-04", 815), ("2022-10-30", 840), ("2022-11-12", 790), ("2022-11-18", 440),
    ("2022-11-28", 390), ("2022-12-14", 415), ("2022-12-17", 390), ("2022-12-20", 465), ("2022-12-30", 565),
    ("2023-01-07", 640), ("2023-01-10", 740), ("2023-01-18", 870), ("2023-01-23", 920), ("2023-01-25", 765),
    ("2023-02-07", 765), ("2023-02-09", 1070), ("2023-02-17", 1020), ("2023-02-23", 1095), ("2023-03-01", 1095),
    ("2023-03-08", 945), ("2023-03-14", 840), ("2023-03-20", 690), ("2023-03-27", 615), ("2023-04-03", 590),
    ("2023-04-06", 790), ("2023-04-09", 970), ("2023-04-15", 970), ("2023-04-18", 995)]

PANELS = [
    [LIKES_BIRLIKCI, LIKES_DAYANISMACI, LIKES_PROAKTIF, LIKES_URETICI],
    [RT_BIRLIKCI, RT_DAYANISMACI, RT_PROAKTIF, RT_URETICI],
    [COMMENTS_BIRLIKCI, COMMENTS_DAYANISMACI, COMMENTS_PROAKTIF, COMMENTS_URETICI],
]

FS = 4.5  # the original was a big figure shrunk to fit, so every size is small


def build_frame(series):
    frames = []
    for name, points in zip(GROUPS, series):
        d = pd.DataFrame(points, columns=["Tarih", "deger"])
        d["Grup"] = name
        frames.append(d)
    df = pd.concat(frames, ignore_index=True)
    df["Tarih"] = pd.to_datetime(df["Tarih"])
    return df


def draw_panel(ax, series, title, ylabel):
    df = build_frame(series)
    sns.lineplot(data=df, x="Tarih", y="deger", hue="Grup", hue_order=GROUPS,
                 palette=COLORS, estimator=None, linewidth=0.7, ax=ax)
    ax.set_title(title, fontsize=5.4, pad=2.7)
    ax.set_xlabel(XLABEL, fontsize=FS, labelpad=1.5)
    ax.set_ylabel(ylabel, fontsize=FS, labelpad=2)
    ax.xaxis.set_major_locator(mdates.MonthLocator())
    ax.xaxis.set_major_formatter(mdates.DateFormatter("%Y-%m"))
    ax.tick_params(axis="both", labelsize=FS, length=1.6, width=0.4, pad=1.6)
    plt.setp(ax.get_xticklabels(), rotation=45)
    ax.grid(True, color="#b0b0b0", linewidth=0.4)
    for sp in ax.spines.values():
        sp.set_linewidth(0.5)
        sp.set_color("#444444")
    leg = ax.legend(loc="upper left", fontsize=FS, handlelength=2.0,
                    borderpad=0.4, labelspacing=0.5, framealpha=0.8)
    leg.get_frame().set_linewidth(0.4)
    for line in leg.get_lines():
        line.set_linewidth(0.7)


fig = plt.figure(figsize=(9.05, 8.71), dpi=100, facecolor="white")

# axes boxes in figure fractions: left, bottom, width, height
boxes = [(0.0497, 0.7371, 0.9525, 0.2434),
         (0.0453, 0.3938, 0.9570, 0.2423),
         (0.0453, 0.0505, 0.9570, 0.2445)]
frames = [(0.0061, 0.6871, 1.2, 0.3117),
          (0.0061, 0.3444, 1.2, 0.3123),
          (0.0061, 0.0017, 1.2, 0.3129)]

for box, series, title, ylabel in zip(boxes, PANELS, TITLES, YLABELS):
    ax = fig.add_axes(box)
    draw_panel(ax, series, title, ylabel)

# each chart sits in its own dark frame, like stacked screenshots
for x0, y0, w, h in frames:
    fig.add_artist(patches.Rectangle((x0, y0), w, h, transform=fig.transFigure,
                                     fill=False, edgecolor="#3a3a3a", linewidth=1.3))

fig.savefig("out.png", dpi=100, facecolor="white")
